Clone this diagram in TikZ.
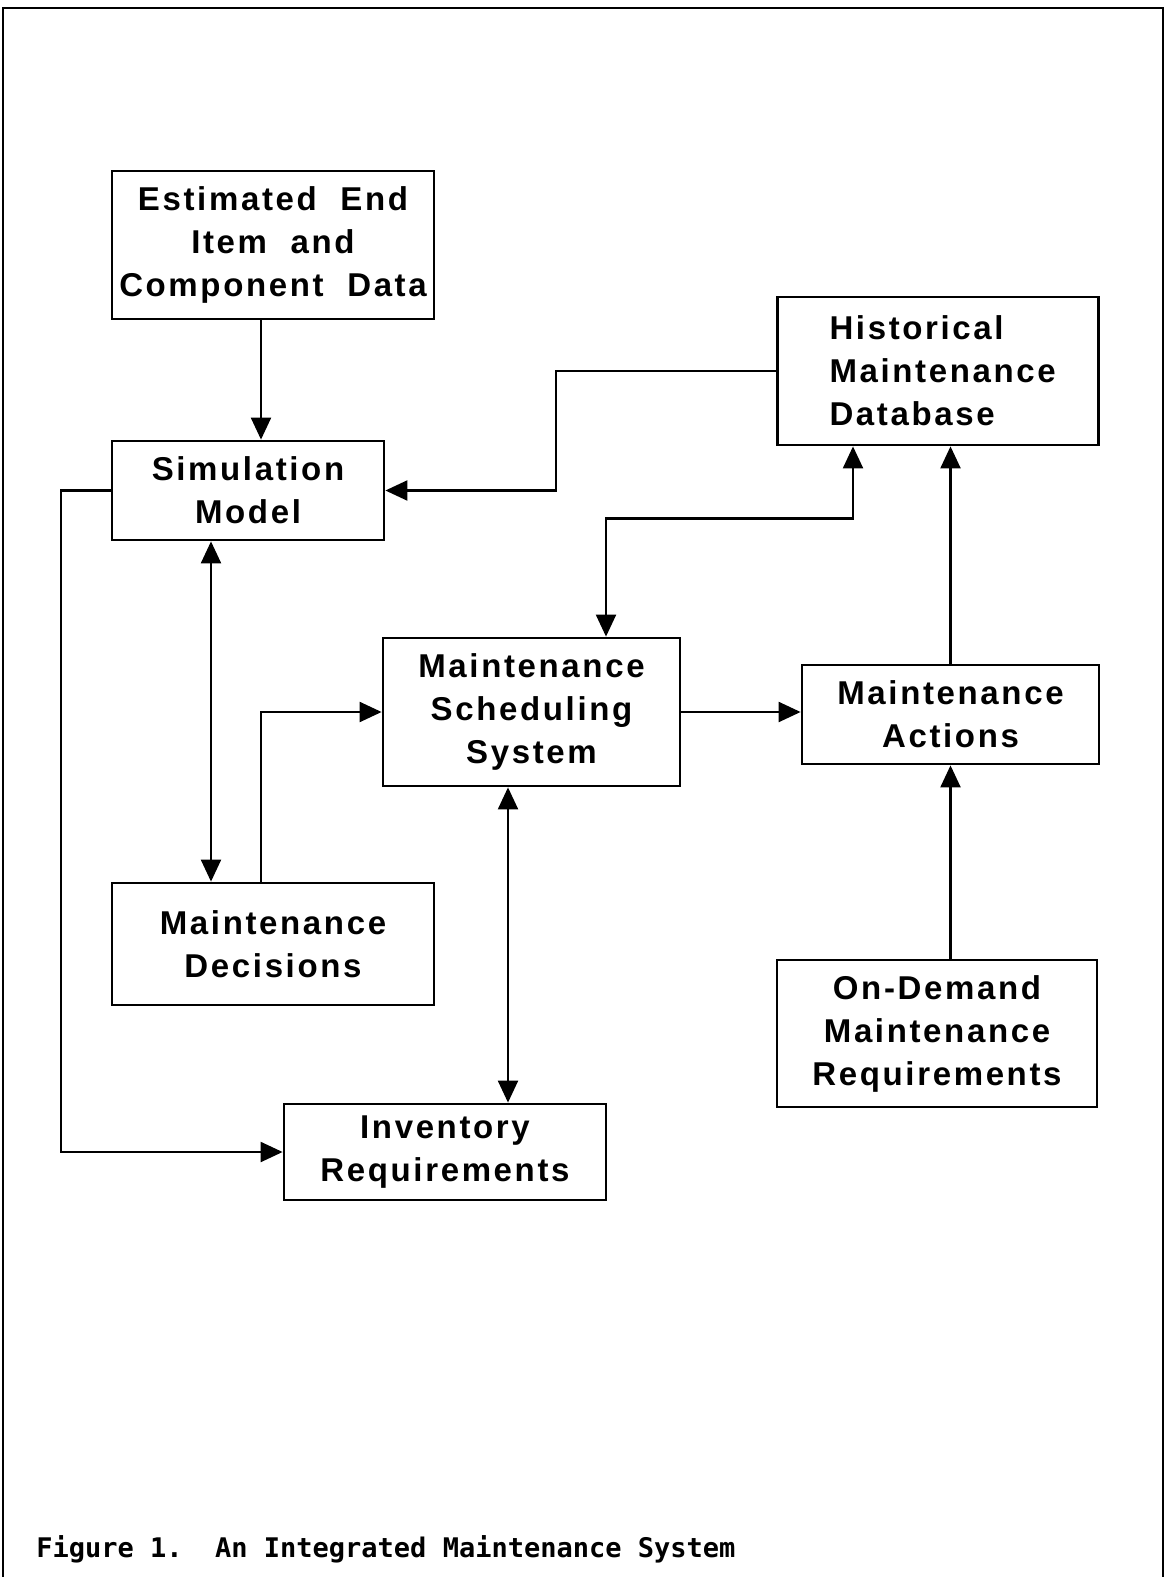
\documentclass[tikz,border=0pt]{standalone}
\usepackage{fontspec}
\usetikzlibrary{positioning, arrows.meta}
\newfontfamily\blockfont[LetterSpace=8]{Liberation Sans}
\newfontfamily\capfont{DejaVu Sans Mono}
\tikzstyle{block}=[draw, line width=1.4pt, align=center, inner sep=0pt,
font=\blockfont\bfseries\fontsize{16.5}{21.5}\selectfont]
\tikzstyle{link}=[line width=1.1pt, -{Triangle[length=11pt,width=10pt]}]
\tikzstyle{dlink}=[line width=1.1pt, {Triangle[length=11pt,width=10pt]}-{Triangle[length=11pt,width=10pt]}]

\begin{document}
\begin{tikzpicture}[x=0.5pt, y=-0.5pt]
\useasboundingbox (0,0) rectangle (1165,1577);
\draw[line width=1.2pt] (3,1577) -- (3,8) -- (1163,8) -- (1163,1577);

\node[block, minimum width=161pt, minimum height=74pt] (est) at (273,245)
  {Estimated\ \ End\\Item\ \ and\\Component\ \ Data};
\node[block, minimum width=136pt, minimum height=49.5pt] (sim) at (248,490.5)
  {Simulation\\Model};
\node[block, align=left, text width=108.5pt, inner xsep=26pt, minimum height=74pt] (hist) at (938,371)
  {Historical\\Maintenance\\Database};
\node[block, minimum width=148.5pt, minimum height=74pt] (mss) at (531.5,712)
  {Maintenance\\Scheduling\\System};
\node[block, minimum width=148.5pt, minimum height=49.5pt] (act) at (950.5,714.5)
  {Maintenance\\Actions};
\node[block, minimum width=161pt, minimum height=61pt] (dec) at (273,944)
  {Maintenance\\Decisions};
\node[block, minimum width=160pt, minimum height=73.5pt] (ond) at (937,1033.5)
  {On-Demand\\Maintenance\\Requirements};
\node[block, minimum width=161pt, minimum height=48pt] (inv) at (445,1152)
  {Inventory\\Requirements};

\draw[link] ([xshift=-6pt]est.south) -- ([xshift=6.5pt]sim.north);
\draw[link] (hist.west) -- ++(-220.5,0) |- (sim.east);
\draw[dlink] ([xshift=-42.5pt]hist.south) -- ++(0,72) -| ([xshift=37.25pt]mss.north);
\draw[dlink] ([xshift=-18.5pt]sim.south) -- ([xshift=-31pt]dec.north);
\draw[link] ([xshift=-6pt]dec.north) |- (mss.west);
\draw[link] (mss.east) -- (act.west |- mss.east);
\draw[link] (act.north) -- (act.north |- hist.south);
\draw[link] (act.south |- ond.north) -- (act.south);
\draw[dlink] ([xshift=-11.75pt]mss.south) -- ([xshift=31.5pt]inv.north);
\draw[link] (sim.west) -- ++(-50,0) |- (inv.west);

\node[anchor=base west, inner sep=0pt, font=\capfont\bfseries\fontsize{13.5}{16}\selectfont] (cap) at (36,1557)
  {Figure 1.\ \ An Integrated Maintenance System};
\end{tikzpicture}
\end{document}
